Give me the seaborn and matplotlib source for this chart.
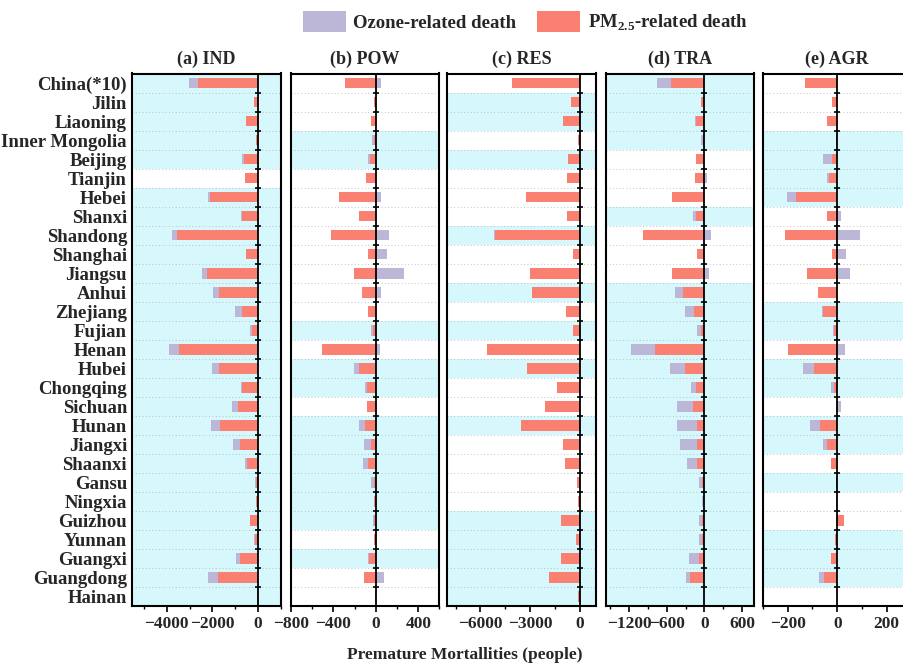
import numpy as np
import pandas as pd
import matplotlib
matplotlib.use("Agg")
import matplotlib.pyplot as plt
import seaborn as sns
from matplotlib.patches import Patch
from matplotlib.ticker import MultipleLocator

regions = ["China(*10)", "Jilin", "Liaoning", "Inner Mongolia", "Beijing", "Tianjin", "Hebei",
           "Shanxi", "Shandong", "Shanghai", "Jiangsu", "Anhui", "Zhejiang", "Fujian", "Henan",
           "Hubei", "Chongqing", "Sichuan", "Hunan", "Jiangxi", "Shaanxi", "Gansu", "Ningxia",
           "Guizhou", "Yunnan", "Guangxi", "Guangdong", "Hainan"]

titles = ["(a) IND", "(b) POW", "(c) RES", "(d) TRA", "(e) AGR"]

ind_pm = [-2620, -160, -553, -87, -611, -582, -2096, -728, -3537, -553, -2256, -1732, -728, -277,
          -3450, -1732, -728, -888, -1674, -815, -480, -102, -73, -378, -146, -800, -1747, -58]
ind_oz = [-410, 0, 0, 0, -117, 0, -117, -22, -248, 0, -219, -262, -291, -101,
          -451, -277, -29, -262, -378, -306, -117, -29, 0, 0, -29, -190, -451, 0]

pow_pm = [-288, -22, -48, -15, -58, -90, -352, -157, -422, -70, -202, -128, -70, -26,
          -512, -163, -86, -86, -99, -48, -77, -19, -19, -13, -22, -67, -109, -10]
pow_oz = [45, 0, 0, -20, -12, 0, 45, 0, 122, 102, 262, 51, 0, -16,
          35, -39, -13, 0, -61, -61, -48, -23, 0, -13, 0, -10, 74, 0]

res_pm = [-4100, -513, -1005, -62, -718, -779, -3239, -779, -5105, -390, -2973, -2870, -820, -390,
          -5617, -3198, -1353, -2071, -3526, -1005, -861, -144, -62, -1107, -205, -1148, -1845, -62]
res_oz = [0, 0, 0, 0, 0, 0, 0, 0, -60, 0, 0, 0, 0, 0,
          0, 0, 0, 0, 0, 0, 0, 0, 0, 0, 0, 0, 0, 0]

tra_pm = [-529, -54, -130, -22, -135, -157, -513, -140, -972, -113, -524, -340, -167, -49,
          -794, -313, -140, -184, -119, -119, -113, -30, -15, -43, -43, -92, -232, -11]
tra_oz = [-232, 0, -21, -32, 0, 49, 0, -44, 103, 0, 76, -135, -146, -64,
          -372, -243, -81, -253, -318, -270, -168, -56, -23, -49, -49, -151, -60, 0]

agr_pm = [-132, -22, -43, -7, -20, -34, -166, -43, -211, -23, -122, -78, -58, -12,
          -198, -95, -12, -4, -68, -42, -24, -7, -7, 26, -9, -26, -53, -2]
agr_oz = [0, 0, 0, 0, -38, -6, -38, 16, 90, 34, 50, 0, -5, -4,
          32, -45, -12, 15, -41, -16, 0, 0, 0, -7, 0, 0, -19, 0]

# background shading rows (1 = cyan band)
ind_band = [1, 1, 1, 1, 1, 0, 1, 1, 1, 1, 1, 1, 1, 1, 1, 1, 1, 1, 1, 1, 1, 1, 1, 1, 1, 1, 1, 1]
pow_band = [0, 0, 0, 1, 1, 0, 0, 0, 0, 0, 0, 0, 0, 1, 0, 1, 1, 0, 1, 1, 1, 1, 1, 1, 0, 1, 0, 0]
res_band = [0, 1, 1, 0, 1, 0, 0, 0, 1, 0, 0, 1, 0, 1, 0, 1, 0, 0, 1, 0, 0, 0, 0, 1, 1, 1, 1, 1]
tra_band = [1, 1, 1, 1, 0, 0, 0, 1, 0, 0, 0, 1, 1, 1, 1, 1, 1, 1, 1, 1, 1, 1, 1, 1, 1, 1, 1, 1]
agr_band = [0, 0, 0, 1, 1, 1, 1, 0, 0, 0, 0, 0, 1, 1, 0, 1, 1, 0, 1, 1, 0, 1, 0, 0, 1, 1, 1, 0]

xlims = [(-5500, 1000), (-800, 600), (-8000, 1000), (-1570, 800), (-300, 300)]
majors = [2000, 400, 3000, 600, 200]
minors = [1000, 200, 1500, 300, 100]

pm_all = [ind_pm, pow_pm, res_pm, tra_pm, agr_pm]
oz_all = [ind_oz, pow_oz, res_oz, tra_oz, agr_oz]
band_all = [ind_band, pow_band, res_band, tra_band, agr_band]

OZ_COLOR = "#bcb6d7"
PM_COLOR = "#fa8072"
BAND_COLOR = "#d6f7fb"

sns.set_theme(style="white")
plt.rcParams["font.family"] = ["Liberation Serif", "DejaVu Serif"]
plt.rcParams["font.weight"] = "bold"
plt.rcParams["mathtext.fontset"] = "custom"
plt.rcParams["mathtext.rm"] = "Liberation Serif:bold"
plt.rcParams["mathtext.bf"] = "Liberation Serif:bold"

W, H = 904, 665
fig = plt.figure(figsize=(W / 100, H / 100), dpi=100)

lefts_px = [132.5, 291, 447.5, 606, 763]
panel_w = 148.5
top_px, bot_px = 73.5, 606
n = len(regions)

for i in range(5):
    ax = fig.add_axes([lefts_px[i] / W, 1 - bot_px / H, panel_w / W, (bot_px - top_px) / H])
    pm = np.array(pm_all[i], dtype=float)
    oz = np.array(oz_all[i], dtype=float)
    oz_end = np.where(np.sign(oz) == np.sign(pm), pm + oz, oz)
    df = pd.DataFrame({"region": regions, "pm": pm, "oz_end": oz_end})

    for k, b in enumerate(band_all[i]):
        if b:
            ax.axhspan(k - 0.5, k + 0.5, color=BAND_COLOR, zorder=0, lw=0)
    for k in range(n - 1):
        ax.axhline(k + 0.5, color="#b0b0b0", lw=0.6, ls=(0, (1, 3)), zorder=0.5)

    sns.barplot(data=df, x="oz_end", y="region", order=regions, orient="h", color=OZ_COLOR,
                width=0.56, linewidth=0, errorbar=None, ax=ax, saturation=1, zorder=2)
    sns.barplot(data=df, x="pm", y="region", order=regions, orient="h", color=PM_COLOR,
                width=0.56, linewidth=0, errorbar=None, ax=ax, saturation=1, zorder=3)

    ax.axvline(0, color="black", lw=1.3, zorder=4)
    ax.plot(np.zeros(n - 1), np.arange(n - 1) + 0.5, ls="none", marker="_", ms=5, mew=1.2,
            color="black", zorder=5)

    ax.set_xlim(*xlims[i])
    ax.set_ylim(n - 0.5, -0.5)
    ax.xaxis.set_major_locator(MultipleLocator(majors[i]))
    ax.xaxis.set_minor_locator(MultipleLocator(minors[i]))
    ax.tick_params(axis="x", which="major", direction="out", length=4, width=1.2, bottom=True,
                   labelsize=12.5, pad=3, color="black")
    ax.tick_params(axis="x", which="minor", direction="out", length=2.5, width=1, bottom=True,
                   color="black")
    ax.tick_params(axis="y", length=0, labelsize=13.5, pad=4)
    for lab in ax.get_xticklabels() + ax.get_yticklabels():
        lab.set_fontweight("bold")
    ax.set_xlabel("")
    ax.set_ylabel("")
    if i > 0:
        ax.set_yticklabels([])
    for sp in ax.spines.values():
        sp.set_color("black")
        sp.set_linewidth(1.5)
        sp.set_visible(True)
    ax.set_title(titles[i], fontsize=13, fontweight="bold", pad=7)
    ax.grid(False)

handles = [Patch(facecolor=OZ_COLOR, edgecolor="none", label="Ozone-related death"),
           Patch(facecolor=PM_COLOR, edgecolor="none", label=r"PM$_{2.5}$-related death")]
fig.legend(handles=handles, loc="center", bbox_to_anchor=(525 / W, 1 - 22 / H), ncol=2,
           frameon=False, prop={"weight": "bold", "size": 13.5}, handlelength=2.3,
           handleheight=1.3, columnspacing=1.1, handletextpad=0.4)

fig.text(465 / W, 1 - 655 / H, "Premature Mortallities (people)", ha="center", va="center",
         fontsize=12.5, fontweight="bold")

fig.savefig("out.png", dpi=100)
